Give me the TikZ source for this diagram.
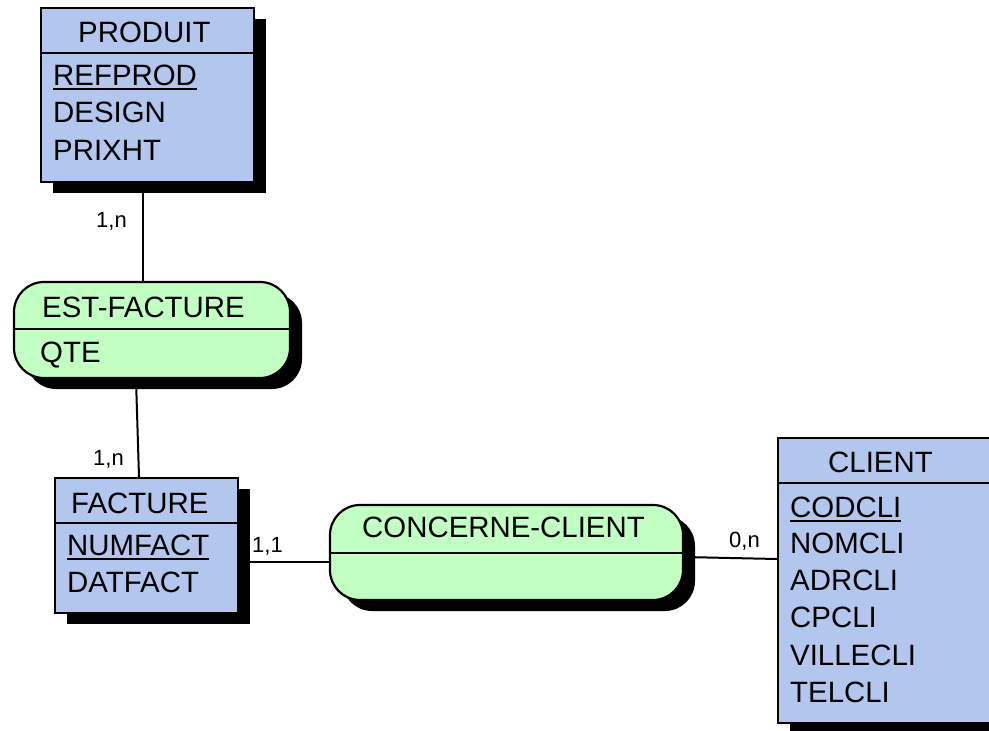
\documentclass[tikz,border=0pt]{standalone}
\usepackage{fontspec}
\setmainfont{Liberation Sans}
\usetikzlibrary{shadows,backgrounds}
\definecolor{entblue}{RGB}{178,198,238}
\definecolor{relgreen}{RGB}{194,255,194}
\tikzset{
  entity/.style={draw=black, line width=2.2pt, fill=entblue, rectangle, inner sep=0pt,
    drop shadow={shadow xshift=12pt, shadow yshift=-11pt, fill=black, opacity=1}},
  relation/.style={entity, fill=relgreen, rounded corners=30pt},
  lbl/.style={anchor=base west, inner sep=0pt, font=\fontsize{29.4}{34}\selectfont},
  card/.style={anchor=base west, inner sep=0pt, font=\fontsize{22}{26}\selectfont},
  link/.style={line width=2pt},
  sep/.style={line width=2pt},
  keyline/.style={line width=1.8pt}
}
\begin{document}
\begin{tikzpicture}[x=1pt,y=-1pt]
\useasboundingbox (0,0) rectangle (989,731);
\clip (0,0) rectangle (989,731);

% entities and associations
\node[entity, minimum width=213pt, minimum height=174pt] (produit) at (147.5,95) {};
\node[relation, minimum width=276pt, minimum height=96pt] (estf) at (152,330) {};
\node[entity, minimum width=183pt, minimum height=135pt] (facture) at (146.5,545.5) {};
\node[relation, minimum width=353pt, minimum height=95pt] (concerne) at (506.5,552.5) {};
\node[entity, minimum width=216pt, minimum height=285pt] (client) at (886,580.5) {};

% header separators
\draw[sep] (produit.west |- 0,53) -- (produit.east |- 0,53);
\draw[sep] (estf.west |- 0,329) -- (estf.east |- 0,329);
\draw[sep] (facture.west |- 0,523) -- (facture.east |- 0,523);
\draw[sep] (concerne.west |- 0,553) -- (concerne.east |- 0,553);
\draw[sep] (client.west |- 0,483) -- (client.east |- 0,483);

% PRODUIT
\node[lbl] (tprod) at (78,42) {PRODUIT};
\node[lbl] (refprod) at (53,85) {REFPROD};
\node[lbl] (design) at (53,122) {DESIGN};
\node[lbl] (prixht) at (53,160) {PRIXHT};
\draw[keyline] ([yshift=-4pt]refprod.base west) -- ([yshift=-4pt]refprod.base east);

% EST-FACTURE
\node[lbl] (testf) at (42,317) {EST-FACTURE};
\node[lbl] (qte) at (40,362) {QTE};

% FACTURE
\node[lbl] (tfact) at (71,513) {FACTURE};
\node[lbl] (numfact) at (67,555) {NUMFACT};
\node[lbl] (datfact) at (67,592) {DATFACT};
\draw[keyline] ([yshift=-4pt]numfact.base west) -- ([yshift=-4pt]numfact.base east);

% CONCERNE-CLIENT
\node[lbl] (tconc) at (362,537) {CONCERNE-CLIENT};

% CLIENT
\node[lbl] (tcli) at (828,472) {CLIENT};
\node[lbl] (codcli) at (790,517) {CODCLI};
\node[lbl] (nomcli) at (790,553) {NOMCLI};
\node[lbl] (adrcli) at (790,590) {ADRCLI};
\node[lbl] (cpcli) at (790,627) {CPCLI};
\node[lbl] (villecli) at (790,665) {VILLECLI};
\node[lbl] (telcli) at (790,702) {TELCLI};
\draw[keyline] ([yshift=-4pt]codcli.base west) -- ([yshift=-4pt]codcli.base east);

% cardinalities
\node[card] (c1) at (96,227) {1,n};
\node[card] (c2) at (93,465) {1,n};
\node[card] (c3) at (252,552) {1,1};
\node[card] (c4) at (729,547) {0,n};

% links, drawn behind the boxes and their shadows
\begin{pgfonlayer}{background}
\draw[link] ([xshift=-4.5pt]produit.south) -- ([xshift=-4.5pt]produit.south |- estf.north);
\draw[link] ([xshift=-16pt]estf.south) -- ([xshift=-7.5pt]facture.north);
\draw[link] ([yshift=-16.5pt]facture.east) -- ([yshift=-9.5pt]concerne.west);
\draw[link] ([yshift=-4.5pt]concerne.east) -- ([yshift=21.5pt]client.west);
\end{pgfonlayer}
\end{tikzpicture}
\end{document}
